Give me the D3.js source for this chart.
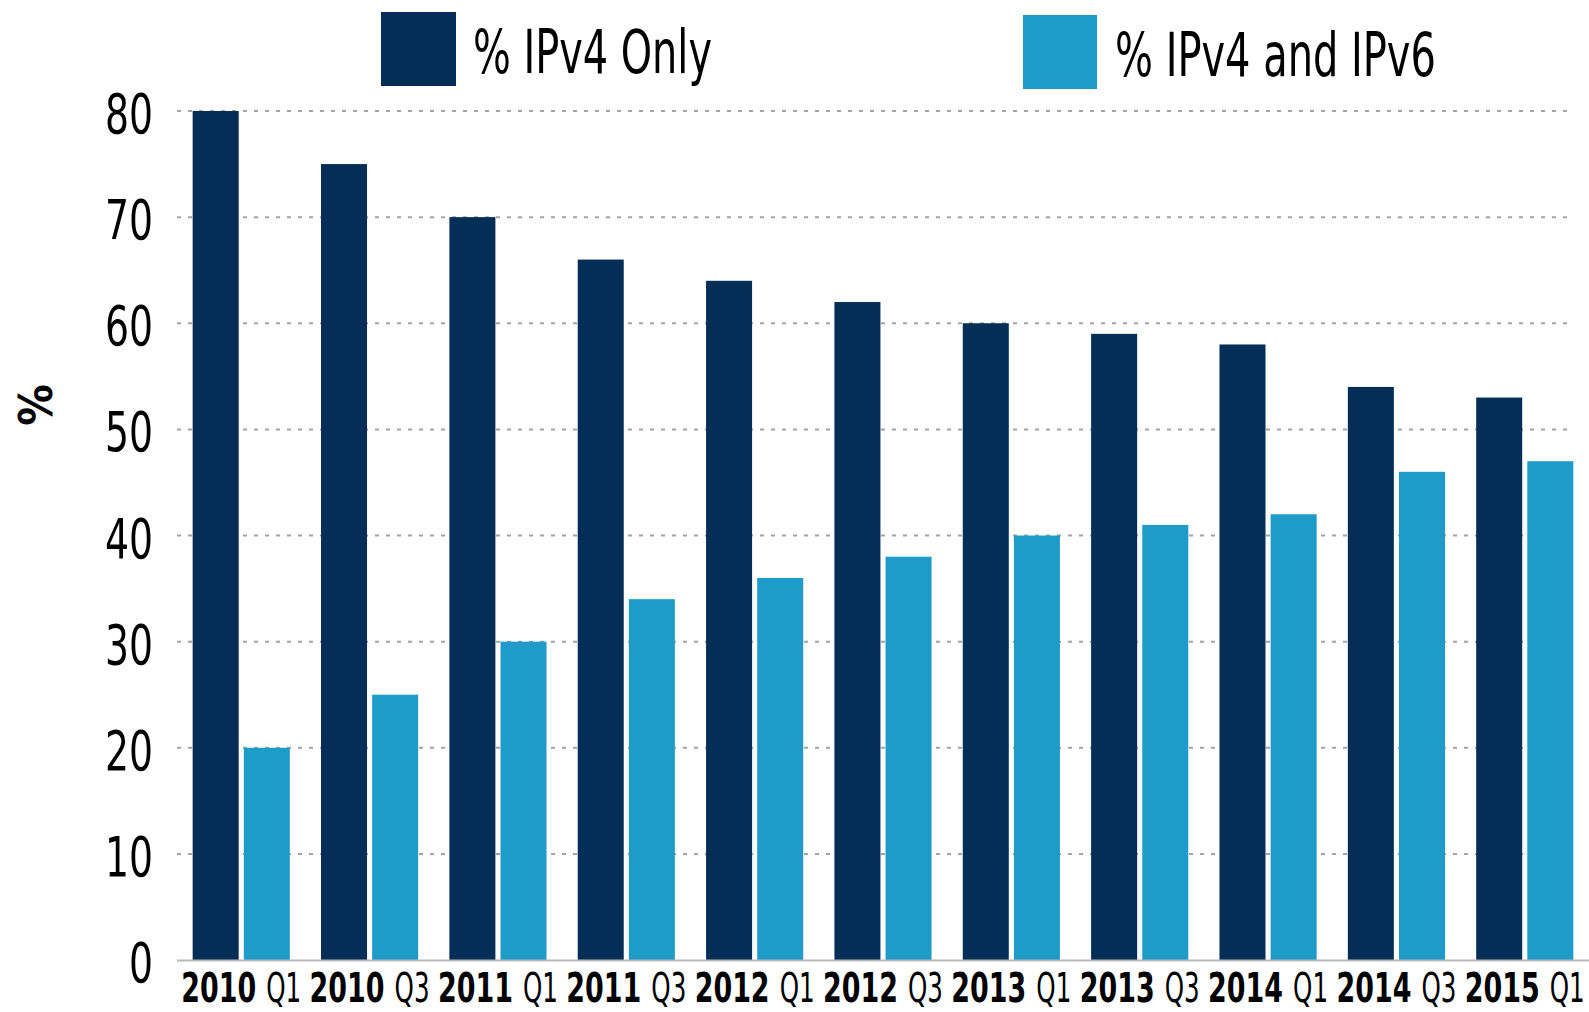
<!DOCTYPE html>
<html>
<head>
<meta charset="utf-8">
<script src="https://cdn.jsdelivr.net/npm/d3@7"></script>
<style>
	body { margin: 0; background: #fff; }
	svg { display: block; }
	text { font-family: "Liberation Sans Narrow", "DejaVu Sans Condensed", sans-serif; fill: #000; }
</style>
</head>
<body>
<div id="chart"></div>
<script>
// quarters along the x axis
var YEARS = ["2010", "2010", "2011", "2011", "2012", "2012", "2013", "2013", "2014", "2014", "2015"];
var QUARTERS = ["Q1", "Q3", "Q1", "Q3", "Q1", "Q3", "Q1", "Q3", "Q1", "Q3", "Q1"];

// share of hosts, percent
var IPV4_ONLY = [80, 75, 70, 66, 64, 62, 60, 59, 58, 54, 53];
var IPV4_AND_IPV6 = [20, 25, 30, 34, 36, 38, 40, 41, 42, 46, 47];

var SERIES_NAMES = ["% IPv4 Only", "% IPv4 and IPv6"];
var Y_TICKS = [0, 10, 20, 30, 40, 50, 60, 70, 80];

var COLORS = ["#042e55", "#1e9bc9"];

var WIDTH = 1589, HEIGHT = 1012;

var svg = d3.select("#chart").append("svg")
	.attr("width", WIDTH)
	.attr("height", HEIGHT);

// squeeze a text horizontally to a given width (the source font is condensed)
function squeeze(sel, px, py, target) {
	sel.each(function(d, i) {
		var t = d3.select(this);
		var w = this.getComputedTextLength();
		var s = target(d, i) / w;
		t.attr("transform", "translate(" + px(d, i) + "," + py(d, i) + ") scale(" + s + ",1)");
	});
}

var labels = YEARS.map(function(y, i) { return i; });

// group scale and scale inside each group
var x0 = d3.scaleBand()
	.domain(labels)
	.range([177, 1589])
	.paddingInner(0.243)
	.paddingOuter(0.122);

var x1 = d3.scaleBand()
	.domain([0, 1])
	.range([0, x0.bandwidth()])
	.paddingInner(0.1);

var y = d3.scaleLinear()
	.domain([0, 80])
	.range([960, 111]);

// dotted gridlines
svg.append("g")
	.selectAll("line")
	.data(Y_TICKS.filter(function(d) { return d > 0; }))
	.enter()
	.append("line")
	.attr("x1", 177)
	.attr("x2", 1569)
	.attr("y1", function(d) { return y(d); })
	.attr("y2", function(d) { return y(d); })
	.attr("stroke", "#a3a3a3")
	.attr("stroke-width", 2)
	.attr("stroke-dasharray", "4,7");

// y tick labels
var yl = svg.append("g")
	.selectAll("text")
	.data(Y_TICKS)
	.enter()
	.append("text")
	.attr("text-anchor", "end")
	.attr("font-size", 56)
	.text(function(d) { return d; });

squeeze(yl,
	function() { return 153; },
	function(d) { return y(d) + 22; },
	function(d) { return String(d).length * 24; });

// y axis title
svg.append("text")
	.attr("transform", "translate(52,405) rotate(-90)")
	.attr("text-anchor", "middle")
	.attr("font-size", 46)
	.attr("font-weight", "bold")
	.text("%");

// bars
var groups = svg.append("g")
	.selectAll("g")
	.data(labels)
	.enter()
	.append("g")
	.attr("transform", function(i) { return "translate(" + x0(i) + ",0)"; });

groups.selectAll("rect")
	.data(function(i) { return [IPV4_ONLY[i], IPV4_AND_IPV6[i]]; })
	.enter()
	.append("rect")
	.attr("x", function(d, j) { return x1(j); })
	.attr("y", function(d) { return y(d); })
	.attr("width", x1.bandwidth())
	.attr("height", function(d) { return y(0) - y(d); })
	.attr("fill", function(d, j) { return COLORS[j]; });

// baseline
svg.append("line")
	.attr("x1", 177)
	.attr("x2", 1589)
	.attr("y1", 960.5)
	.attr("y2", 960.5)
	.attr("stroke", "#b8b8b8")
	.attr("stroke-width", 2);

// x labels: bold year, regular quarter
function groupCenter(i) { return x0(i) + x0.bandwidth() / 2; }

var xg = svg.append("g");

var yearText = xg.selectAll(".year")
	.data(labels)
	.enter()
	.append("text")
	.attr("class", "year")
	.attr("font-size", 41)
	.attr("font-weight", "bold")
	.text(function(i) { return YEARS[i]; });

squeeze(yearText,
	function(i) { return groupCenter(i) - 60; },
	function() { return 1002; },
	function() { return 75; });

var quarterText = xg.selectAll(".quarter")
	.data(labels)
	.enter()
	.append("text")
	.attr("class", "quarter")
	.attr("font-size", 41)
	.text(function(i) { return QUARTERS[i]; });

squeeze(quarterText,
	function(i) { return groupCenter(i) + 25; },
	function() { return 1002; },
	function() { return 35; });

// legend
var LEGEND_POS = [
	{ box: [381, 12, 75, 74], tx: 473, ty: 73, len: 239 },
	{ box: [1023, 15, 74, 74], tx: 1115, ty: 76, len: 321 }
];

var legend = svg.append("g")
	.selectAll("g")
	.data(SERIES_NAMES)
	.enter()
	.append("g");

legend.append("rect")
	.attr("x", function(d, i) { return LEGEND_POS[i].box[0]; })
	.attr("y", function(d, i) { return LEGEND_POS[i].box[1]; })
	.attr("width", function(d, i) { return LEGEND_POS[i].box[2]; })
	.attr("height", function(d, i) { return LEGEND_POS[i].box[3]; })
	.attr("fill", function(d, i) { return COLORS[i]; });

var legendText = legend.append("text")
	.attr("font-size", 60)
	.text(function(d) { return d; });

squeeze(legendText,
	function(d, i) { return LEGEND_POS[i].tx; },
	function(d, i) { return LEGEND_POS[i].ty; },
	function(d, i) { return LEGEND_POS[i].len; });
</script>
</body>
</html>
